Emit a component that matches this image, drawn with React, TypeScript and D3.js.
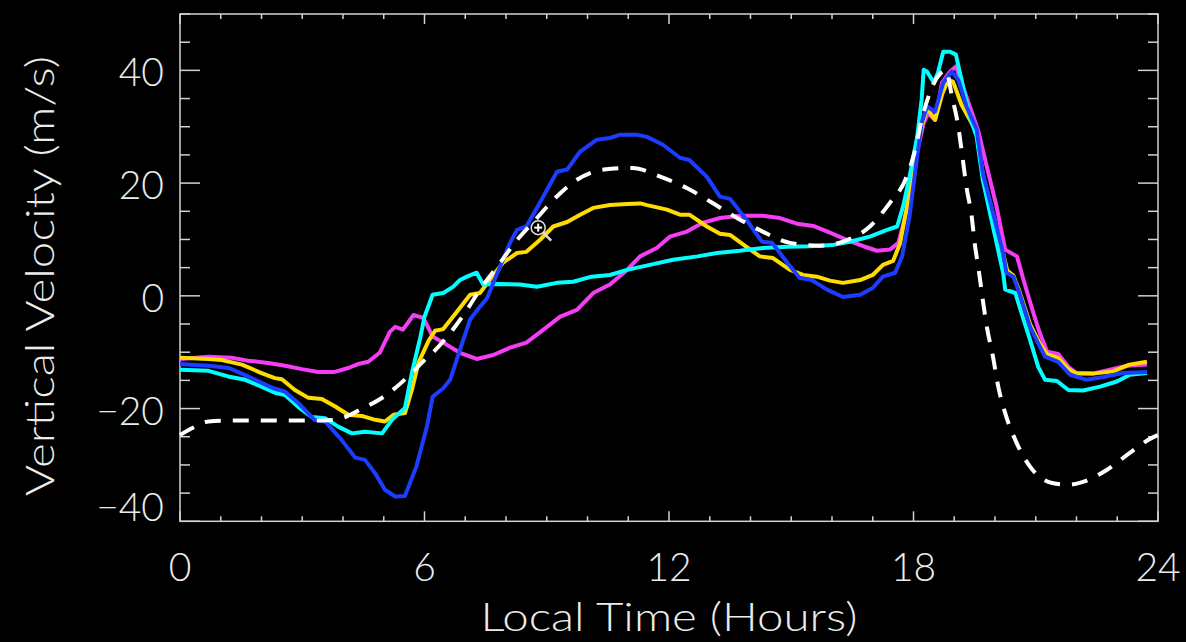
import React from 'react';
import * as d3 from 'd3';

// Axis tick values
const hourTicks = [0, 6, 12, 18, 24];
const velocityTicks = [-40, -20, 0, 20, 40];
const hourMinorStep = 1;
const velocityMinorStep = 5;

// [local time (h), vertical velocity (m/s)]
const modelCurve: [number, number][] = [
  [0, -24.7], [0.35, -23.3], [0.7, -22.3], [1.5, -22.1], [2.5, -22.1], [3.5, -22.1], [3.8, -22.0],
  [4.5, -19.9], [5.0, -17.9], [5.6, -14.3], [6.0, -11.4], [6.2, -10.1], [6.63, -6.6], [7.04, -2.5],
  [7.36, 1.1], [7.78, 5.1], [8.27, 9.9], [8.76, 13.8], [9.16, 17.0], [9.74, 20.6], [10.4, 22.4],
  [11.1, 22.7], [11.8, 21.1], [12.47, 19.0], [13.06, 16.5], [13.67, 13.8], [14.3, 11.4], [14.97, 9.4],
  [15.7, 8.9], [16.37, 9.9], [16.93, 12.3], [17.42, 16.5], [17.8, 20.6], [18.04, 25.9], [18.2, 31.2],
  [18.4, 36.0], [18.65, 39.4], [18.8, 40.0], [18.94, 35.5], [19.1, 30.0], [19.2, 24.7], [19.3, 19.3],
  [19.43, 14.0], [19.5, 9.4], [19.6, 4.6], [19.7, -0.7], [19.8, -5.5], [19.95, -10.8], [20.08, -16.1],
  [20.25, -20.8], [20.5, -25.6], [20.86, -30.3], [21.4, -33.2], [21.8, -33.5], [22.16, -33.0],
  [22.74, -30.9], [23.3, -27.9], [23.85, -25.2], [24, -24.7],
];

const blueRun: [number, number][] = [
  [0, -12.1], [0.7, -12.4], [1.2, -12.8], [1.67, -14.3], [2.26, -16.3], [2.58, -17.0], [2.9, -19.0],
  [3.3, -22.0], [3.56, -22.3], [3.97, -25.6], [4.3, -28.7], [4.54, -29.1], [4.79, -31.5], [5.03, -34.4],
  [5.28, -35.6], [5.52, -35.5], [5.8, -30.3], [6.06, -23.2], [6.2, -17.9], [6.46, -16.4], [6.63, -14.9],
  [6.87, -9.6], [7.12, -4.2], [7.32, -2.3], [7.53, -0.5], [7.7, 2.5], [7.85, 5.1], [8.1, 9.4],
  [8.27, 11.7], [8.5, 12.3], [8.83, 16.5], [9.25, 22.0], [9.5, 22.4], [9.82, 25.6], [10.23, 27.7],
  [10.55, 28.0], [10.8, 28.6], [11.2, 28.6], [11.46, 28.2], [11.85, 26.8], [12.27, 24.5], [12.5, 24.1],
  [12.93, 21.1], [13.25, 17.6], [13.5, 17.2], [13.9, 13.5], [14.28, 9.6], [14.53, 9.4], [14.9, 5.9],
  [15.2, 3.2], [15.5, 2.8], [15.88, 1.1], [16.27, -0.2], [16.69, 0.2], [17.0, 1.4], [17.25, 3.4],
  [17.55, 4.1], [17.72, 7.0], [17.9, 14.0], [18.09, 24.7], [18.2, 30.7], [18.33, 33.6], [18.53, 32.7],
  [18.73, 37.8], [18.94, 39.8], [19.1, 38.3], [19.3, 33.6], [19.55, 29.5], [19.7, 21.8], [19.95, 14.7],
  [20.2, 7.6], [20.28, 4.1], [20.45, 3.4], [20.6, 0.5], [20.86, -5.5], [21.1, -9.0], [21.23, -10.8],
  [21.55, -11.7], [21.84, -14.0], [22.25, -14.9], [22.66, -14.4], [23.14, -13.7], [23.73, -13.5],
];

const cyanRun: [number, number][] = [
  [0, -13.1], [0.7, -13.3], [1.18, -14.3], [1.6, -14.9], [2.0, -16.1], [2.33, -17.2], [2.58, -17.6],
  [2.9, -19.7], [3.23, -21.5], [3.56, -21.7], [3.88, -23.2], [4.22, -24.4], [4.54, -24.1], [4.96, -24.4],
  [5.2, -22.0], [5.52, -19.9], [5.69, -13.7], [5.9, -7.3], [6.0, -3.7], [6.2, 0.2], [6.46, 0.5],
  [6.7, 1.6], [6.87, 2.8], [7.04, 3.4], [7.28, 4.1], [7.44, 2.0], [7.78, 2.1], [8.34, 2.0], [8.76, 1.6],
  [9.25, 2.3], [9.65, 2.5], [10.1, 3.4], [10.55, 3.7], [10.97, 4.6], [11.53, 5.5], [12.1, 6.4],
  [12.7, 7.0], [13.18, 7.6], [13.74, 8.0], [14.3, 8.5], [14.9, 8.7], [15.46, 8.8], [16.0, 9.0],
  [16.44, 9.6], [16.93, 10.5], [17.35, 11.7], [17.6, 12.3], [17.75, 16.0], [17.9, 21.0], [18.09, 28.2],
  [18.2, 34.8], [18.25, 40.1], [18.33, 39.8], [18.5, 37.8], [18.6, 39.6], [18.73, 43.3], [18.9, 43.3],
  [19.04, 42.8], [19.18, 38.3], [19.38, 31.8], [19.55, 28.2], [19.7, 20.6], [19.95, 12.3], [20.2, 4.1],
  [20.25, 1.1], [20.5, 0.5], [20.6, -1.9], [20.86, -7.8], [21.06, -12.6], [21.23, -14.9], [21.52, -15.1],
  [21.8, -16.7], [22.16, -16.8], [22.58, -16.1], [22.99, -15.2], [23.31, -14.0], [23.73, -13.7],
];

const yellowRun: [number, number][] = [
  [0, -11.0], [0.7, -11.2], [1.03, -11.4], [1.52, -12.2], [2.0, -13.7], [2.33, -14.6], [2.5, -14.8],
  [2.82, -16.7], [3.15, -18.1], [3.48, -18.3], [3.8, -19.6], [4.13, -21.1], [4.46, -21.3], [4.79, -22.0],
  [5.03, -22.3], [5.24, -21.1], [5.52, -20.8], [5.69, -16.7], [5.85, -11.9], [6.1, -8.0], [6.26, -6.2],
  [6.46, -5.9], [6.8, -2.8], [7.12, 0.2], [7.36, 0.5], [7.6, 2.8], [7.93, 5.9], [8.27, 7.6], [8.5, 7.8],
  [8.83, 9.9], [9.16, 12.3], [9.5, 13.1], [9.82, 14.4], [10.14, 15.6], [10.55, 16.1], [10.97, 16.3],
  [11.3, 16.4], [11.46, 16.1], [11.95, 15.3], [12.27, 14.4], [12.5, 14.4], [12.93, 12.3], [13.25, 11.0],
  [13.5, 10.8], [13.9, 8.7], [14.23, 7.0], [14.55, 6.7], [14.97, 4.6], [15.29, 3.7], [15.63, 3.4],
  [15.95, 2.7], [16.27, 2.3], [16.69, 2.8], [17.0, 3.7], [17.25, 5.5], [17.5, 6.2], [17.67, 9.3],
  [17.87, 17.0], [18.04, 24.1], [18.2, 30.0], [18.33, 33.3], [18.53, 31.2], [18.7, 35.7], [18.85, 38.3],
  [18.97, 38.0], [19.18, 33.9], [19.4, 31.0], [19.55, 29.0], [19.7, 21.5], [19.95, 14.5], [20.2, 7.5],
  [20.3, 4.5], [20.45, 3.6], [20.6, 0.8], [20.86, -5.0], [21.1, -8.5], [21.28, -10.4], [21.55, -11.0],
  [21.8, -13.0], [22.0, -13.8], [22.4, -13.8], [22.9, -13.4], [23.3, -12.2], [23.73, -11.7],
];

const magentaRun: [number, number][] = [
  [0, -11.2], [0.7, -10.8], [1.26, -11.0], [1.67, -11.5], [2.16, -11.9], [2.58, -12.4], [2.99, -13.0],
  [3.39, -13.5], [3.8, -13.5], [4.13, -12.8], [4.37, -12.1], [4.62, -11.7], [4.9, -10.1], [5.15, -6.4],
  [5.28, -5.5], [5.47, -6.0], [5.73, -3.4], [5.97, -3.9], [6.2, -7.2], [6.46, -8.3], [6.87, -10.1],
  [7.28, -11.2], [7.69, -10.5], [8.1, -9.2], [8.5, -8.3], [8.92, -6.0], [9.33, -3.7], [9.74, -2.5],
  [10.14, 0.5], [10.55, 2.0], [10.97, 4.6], [11.29, 7.0], [11.7, 8.5], [12.02, 10.5], [12.44, 11.4],
  [12.84, 13.0], [13.25, 13.8], [13.74, 14.2], [14.3, 14.2], [14.72, 13.8], [15.14, 12.8], [15.54, 12.4],
  [15.95, 11.2], [16.37, 9.9], [16.77, 8.8], [17.1, 8.0], [17.42, 8.2], [17.63, 9.4], [17.84, 15.3],
  [18.1, 25.9], [18.25, 30.7], [18.36, 32.4], [18.53, 31.2], [18.7, 37.8], [18.9, 39.8], [19.04, 40.7],
  [19.18, 37.8], [19.38, 33.6], [19.58, 29.5], [19.8, 22.9], [20.04, 15.8], [20.25, 8.2], [20.54, 7.0],
  [20.7, 2.8], [20.94, -3.0], [21.1, -6.6], [21.28, -9.9], [21.55, -10.3], [21.8, -12.6], [22.0, -13.7],
  [22.4, -13.8], [22.82, -13.1], [23.24, -12.4], [23.73, -12.2],
];

// Pointer marker location in data units
const pointerAt: [number, number] = [8.79, 12.1];

const W = 1186;
const H = 642;
const PLOT = { left: 180, right: 1158, top: 14, bottom: 521.3 };
const AXIS_COLOR = '#d2d2d2';
const TEXT_COLOR = '#ececec';
const FONT = 'Lato, "DejaVu Sans", sans-serif';

export default function App() {
  const x = d3.scaleLinear().domain([0, 24]).range([PLOT.left, PLOT.right]);
  const y = d3.scaleLinear().domain([-40, 50]).range([PLOT.bottom, PLOT.top]);

  const line = d3
    .line<[number, number]>()
    .x((d) => x(d[0]))
    .y((d) => y(d[1]));
  const smooth = d3
    .line<[number, number]>()
    .x((d) => x(d[0]))
    .y((d) => y(d[1]))
    .curve(d3.curveMonotoneX);

  const xMinor = d3.range(0, 24 + 1e-9, hourMinorStep).filter((v) => !hourTicks.includes(v));
  const yMinor = d3.range(-40, 50 + 1e-9, velocityMinorStep).filter((v) => !velocityTicks.includes(v));

  const runs: { data: [number, number][]; color: string }[] = [
    { data: magentaRun, color: '#f43ef4' },
    { data: yellowRun, color: '#ffdc00' },
    { data: cyanRun, color: '#00ffff' },
    { data: blueRun, color: '#1c3cff' },
  ];

  const [px, py] = [x(pointerAt[0]), y(pointerAt[1])];

  return (
    <svg
      width={W}
      height={H}
      style={{ position: 'fixed', left: 0, top: 0, background: '#000' }}
    >
      <rect x={0} y={0} width={W} height={H} fill="#000" />

      {/* frame */}
      <rect
        x={PLOT.left}
        y={PLOT.top}
        width={PLOT.right - PLOT.left}
        height={PLOT.bottom - PLOT.top}
        fill="none"
        stroke={AXIS_COLOR}
        strokeWidth={1.5}
      />

      {/* x ticks, bottom and top */}
      <g stroke={AXIS_COLOR} strokeWidth={1.5}>
        {hourTicks.map((t) => (
          <g key={'xt' + t}>
            <line x1={x(t)} x2={x(t)} y1={PLOT.bottom} y2={PLOT.bottom - 10} />
            <line x1={x(t)} x2={x(t)} y1={PLOT.top} y2={PLOT.top + 10} />
          </g>
        ))}
        {xMinor.map((t) => (
          <g key={'xm' + t}>
            <line x1={x(t)} x2={x(t)} y1={PLOT.bottom} y2={PLOT.bottom - 5} />
            <line x1={x(t)} x2={x(t)} y1={PLOT.top} y2={PLOT.top + 5} />
          </g>
        ))}
        {velocityTicks.map((t) => (
          <g key={'yt' + t}>
            <line x1={PLOT.left} x2={PLOT.left + 20} y1={y(t)} y2={y(t)} />
            <line x1={PLOT.right} x2={PLOT.right - 20} y1={y(t)} y2={y(t)} />
          </g>
        ))}
        {yMinor.map((t) => (
          <g key={'ym' + t}>
            <line x1={PLOT.left} x2={PLOT.left + 10} y1={y(t)} y2={y(t)} />
            <line x1={PLOT.right} x2={PLOT.right - 10} y1={y(t)} y2={y(t)} />
          </g>
        ))}
      </g>

      {/* tick labels */}
      <g fill={TEXT_COLOR} fontFamily={FONT} fontWeight={300} fontSize={39}>
        {hourTicks.map((t) => (
          <text key={'xl' + t} x={x(t)} y={581} textAnchor="middle">
            {t}
          </text>
        ))}
        {velocityTicks.map((t) => (
          <text
            key={'yl' + t}
            x={164}
            y={Math.min(y(t) + 16, PLOT.bottom)}
            textAnchor="end"
          >
            {t < 0 ? '\u2212' + Math.abs(t) : t}
          </text>
        ))}
        <text
          x={(PLOT.left + PLOT.right) / 2}
          y={631}
          textAnchor="middle"
          textLength={377}
          lengthAdjust="spacingAndGlyphs"
        >
          Local Time (Hours)
        </text>
        <text
          transform={`translate(54, 276) rotate(-90)`}
          textAnchor="middle"
          textLength={440}
          lengthAdjust="spacingAndGlyphs"
        >
          Vertical Velocity (m/s)
        </text>
      </g>

      {/* data runs */}
      <g fill="none" strokeWidth={4} strokeLinejoin="round">
        {runs.map((r, i) => (
          <path key={i} d={line(r.data) ?? ''} stroke={r.color} />
        ))}
        <path
          d={smooth(modelCurve) ?? ''}
          stroke="#ffffff"
          strokeDasharray="16 12"
        />
      </g>

      {/* pointer marker */}
      <g>
        <line x1={px + 5} y1={py + 5} x2={px + 13} y2={py + 13} stroke="#e0e0e0" strokeWidth={2.5} />
        <circle cx={px} cy={py} r={7} fill="#000" stroke="#e0e0e0" strokeWidth={1.5} />
        <line x1={px - 4} x2={px + 4} y1={py} y2={py} stroke="#fff" strokeWidth={2} />
        <line x1={px} x2={px} y1={py - 4} y2={py + 4} stroke="#fff" strokeWidth={2} />
      </g>
    </svg>
  );
}
